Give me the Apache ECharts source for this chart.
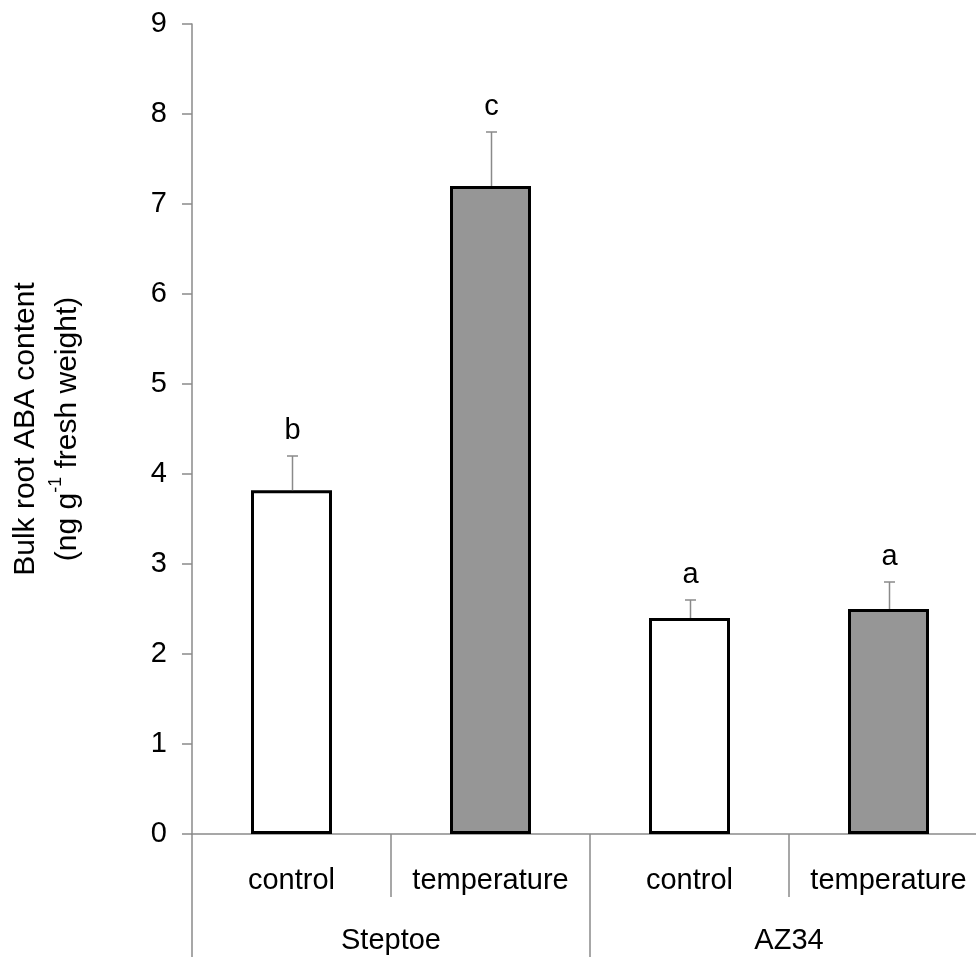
<!DOCTYPE html>
<html>
<head>
<meta charset="utf-8">
<title>Bulk root ABA content</title>
<script src="https://cdn.jsdelivr.net/npm/echarts@6/dist/echarts.min.js"></script>
<style>
  html, body { margin: 0; padding: 0; background: #fff; }
  #chart { width: 976px; height: 959px; }
</style>
</head>
<body>
<div id="chart"></div>
<script>
// Treatments within each cultivar, and the cultivars themselves
const categories = ['control', 'temperature', 'control', 'temperature'];
const groups = ['Steptoe', 'AZ34'];
// Mean ABA content (ng g-1 fresh weight) and standard error
const means = [3.82, 7.2, 2.4, 2.5];
const errors = [0.38, 0.6, 0.2, 0.3];
// Significance letters
const letters = ['b', 'c', 'a', 'a'];
// Y axis ticks
const yTicks = { min: 0, max: 9, interval: 1 };

const FONT = 'Liberation Sans, Arial, sans-serif';
const AXIS_GREY = '#8a8a8a';
const treatmentFill = { control: '#ffffff', temperature: '#969696' };

const chart = echarts.init(document.getElementById('chart'), null, { renderer: 'canvas' });

const barData = means.map((v, i) => ({
  value: v,
  itemStyle: { color: treatmentFill[categories[i]] }
}));

const errData = means.map((v, i) => [i, v, v + errors[i]]);

chart.setOption({
  animation: false,
  backgroundColor: '#fff',
  grid: {
    left: 192, right: -12, top: 24, bottom: 125,
    containLabel: false,
    outerBoundsMode: 'none'
  },
  xAxis: [
    {
      type: 'category',
      data: categories,
      position: 'bottom',
      axisLine: { show: true, lineStyle: { color: AXIS_GREY, width: 1.5 } },
      axisTick: { show: true, length: 63, lineStyle: { color: AXIS_GREY, width: 1.5 } },
      axisLabel: { color: '#000', fontFamily: FONT, fontSize: 29, margin: 32, interval: 0, hideOverlap: false }
    },
    {
      type: 'category',
      data: groups,
      position: 'bottom',
      offset: 0,
      axisLine: { show: false },
      axisTick: { show: true, length: 123, lineStyle: { color: AXIS_GREY, width: 1.5 } },
      axisLabel: { color: '#000', fontFamily: FONT, fontSize: 29, margin: 92, interval: 0 }
    }
  ],
  yAxis: {
    type: 'value',
    min: yTicks.min,
    max: yTicks.max,
    interval: yTicks.interval,
    splitLine: { show: false },
    axisLine: { show: true, lineStyle: { color: AXIS_GREY, width: 1.5 } },
    axisTick: { show: true, length: 10, lineStyle: { color: AXIS_GREY, width: 1.5 } },
    axisLabel: { color: '#000', fontFamily: FONT, fontSize: 29, margin: 25 },
    name: '{t|Bulk root ABA content}\n{t|(ng g}{s|-1}{t| fresh weight)}',
    nameLocation: 'middle',
    nameRotate: 90,
    nameGap: 103,
    nameTextStyle: {
      color: '#000',
      fontFamily: FONT,
      rich: {
        t: { fontSize: 30, fontFamily: FONT, color: '#000', lineHeight: 42 },
        s: { fontSize: 18, fontFamily: FONT, color: '#000', lineHeight: 42, verticalAlign: 'top', padding: [0, 0, 14, 0] }
      }
    }
  },
  series: [
    {
      type: 'bar',
      xAxisIndex: 0,
      data: barData,
      barWidth: 81,
      itemStyle: { borderColor: '#000', borderWidth: 3 },
      z: 2
    },
    {
      type: 'custom',
      xAxisIndex: 0,
      data: errData,
      z: 3,
      renderItem: function (params, api) {
        const base = api.coord([api.value(0), api.value(1)]);
        const top = api.coord([api.value(0), api.value(2)]);
        const x = Math.round(base[0]) + 0.5;
        const capHalf = 5.5;
        const lineStyle = { stroke: '#8a8a8a', lineWidth: 1.5 };
        return {
          type: 'group',
          children: [
            { type: 'line', shape: { x1: x, y1: base[1], x2: x, y2: top[1] }, style: lineStyle },
            { type: 'line', shape: { x1: x - capHalf, y1: top[1], x2: x + capHalf, y2: top[1] }, style: lineStyle },
            {
              type: 'text',
              style: {
                text: letters[params.dataIndex],
                x: x,
                y: top[1] - 11,
                align: 'center',
                verticalAlign: 'bottom',
                font: '29px ' + FONT,
                fill: '#000'
              }
            }
          ]
        };
      }
    }
  ]
});
</script>
</body>
</html>
